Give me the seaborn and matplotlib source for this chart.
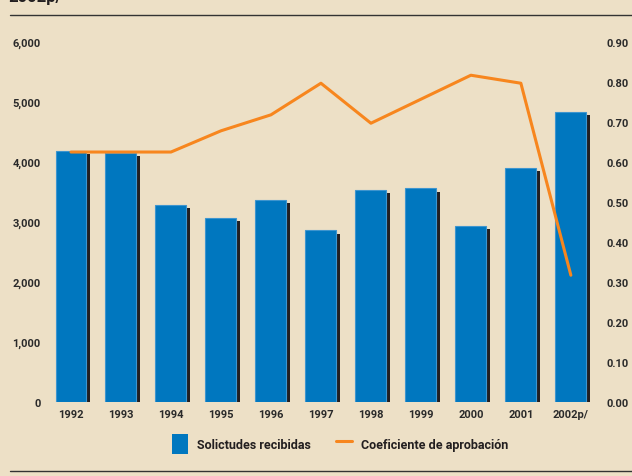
import matplotlib
matplotlib.use("Agg")
import matplotlib.pyplot as plt
import matplotlib.patheffects as pe
from matplotlib.lines import Line2D
from matplotlib.patches import Patch
from matplotlib.ticker import FuncFormatter
import seaborn as sns
import pandas as pd

years = ["1992", "1993", "1994", "1995", "1996", "1997", "1998", "1999", "2000", "2001", "2002p/"]
solicitudes = [4180, 4150, 3280, 3070, 3370, 2860, 3530, 3560, 2930, 3900, 4830]
coeficiente = [0.625, 0.625, 0.625, 0.678, 0.718, 0.797, 0.697, 0.757, 0.817, 0.797, 0.317]
left_ticks = [0, 1000, 2000, 3000, 4000, 5000, 6000]
right_ticks = [0.0, 0.1, 0.2, 0.3, 0.4, 0.5, 0.6, 0.7, 0.8, 0.9]

df = pd.DataFrame({"year": years, "solicitudes": solicitudes, "coef": coeficiente})

BG = "#EDE0C6"
BLUE = "#0077BF"
ORANGE = "#F7861E"
DARK = "#231F20"
TXT = "#2a2a2a"

sns.set_theme(style="white")
plt.rcParams["font.family"] = ["Roboto", "DejaVu Sans"]

fig = plt.figure(figsize=(6.32, 4.77), dpi=100, facecolor=BG)
ax = fig.add_axes([0.0728, 0.1551, 0.870, 0.7547])
ax.set_facecolor(BG)

sns.barplot(data=df, x="year", y="solicitudes", ax=ax, color=BLUE, saturation=1,
            width=0.62, edgecolor="#3d95cf", linewidth=0.8, zorder=3)
for p in ax.patches:
    p.set_path_effects([pe.SimplePatchShadow(offset=(2.3, -2.3), shadow_rgbFace=DARK, alpha=1.0),
                        pe.Normal()])

ax.set_ylim(0, 6000)
ax.set_xlim(-0.5, len(years) - 0.5)
ax.set_yticks(left_ticks)
ax.yaxis.set_major_formatter(FuncFormatter(lambda v, _: f"{int(v):,}"))
ax.set_xlabel("")
ax.set_ylabel("")
for s in ax.spines.values():
    s.set_visible(False)
ax.tick_params(axis="y", length=0, pad=4, labelsize=8, labelcolor=TXT)
ax.tick_params(axis="x", length=0, pad=5, labelsize=8, labelcolor=TXT)

ax2 = ax.twinx()
sns.lineplot(data=df, x="year", y="coef", ax=ax2, color=ORANGE, linewidth=2.2,
             sort=False, zorder=5)
ax2.set_ylim(0, 0.9)
ax2.set_yticks(right_ticks)
ax2.yaxis.set_major_formatter(FuncFormatter(lambda v, _: f"{v:.2f}"))
ax2.set_ylabel("")
ax2.set_xlabel("")
for s in ax2.spines.values():
    s.set_visible(False)
ax2.tick_params(axis="y", length=0, pad=8, labelsize=8, labelcolor=TXT)
ax2.grid(False)
ax.grid(False)

for lbl in ax.get_xticklabels() + ax.get_yticklabels() + ax2.get_yticklabels():
    lbl.set_fontweight("bold")

handles = [Patch(facecolor=BLUE, edgecolor="none"),
           Line2D([0], [0], color=ORANGE, linewidth=2.2)]
leg = fig.legend(handles, ["Solictudes recibidas", "Coeficiente de aprobación"],
                 loc="center", bbox_to_anchor=(0.538, 0.067), ncol=2, frameon=False,
                 fontsize=9, handlelength=1.3, handleheight=2.0, columnspacing=2.0,
                 handletextpad=0.7)
for t in leg.get_texts():
    t.set_color(DARK)
    t.set_fontweight("bold")

fig.add_artist(Line2D([0.016, 1.0], [1 - 16 / 477, 1 - 16 / 477], color="#333333", linewidth=1.0))
fig.add_artist(Line2D([0.016, 1.0], [1 - 472 / 477, 1 - 472 / 477], color="#333333", linewidth=1.0))
fig.text(0.013, 1.005, "2002p/", fontsize=12, fontweight="bold", color=DARK, va="center", ha="left")

fig.savefig("out.png", dpi=100, facecolor=BG)
